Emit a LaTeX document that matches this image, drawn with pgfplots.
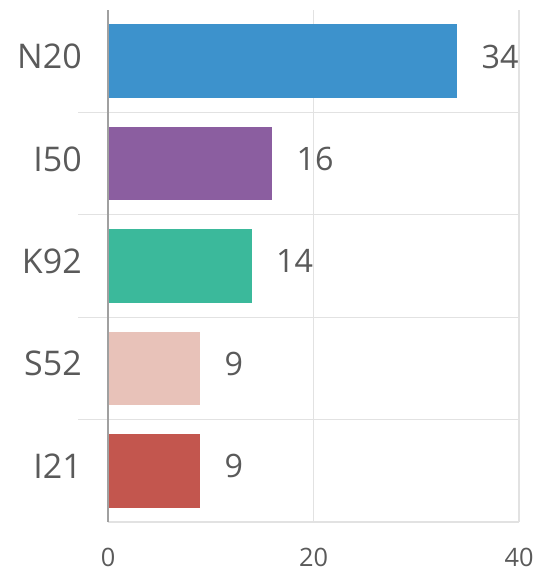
\documentclass[border=0pt]{standalone}
\usepackage{pgfplots}
\pgfplotsset{compat=1.18}
\usepackage{fontspec}
\setmainfont{Open Sans}
\definecolor{cN}{HTML}{3D92CC}
\definecolor{cI}{HTML}{8B5EA0}
\definecolor{cK}{HTML}{3BB99B}
\definecolor{cS}{HTML}{E8C2B9}
\definecolor{cR}{HTML}{C3564E}
\definecolor{txt}{HTML}{5A5A5A}
\definecolor{gridgray}{HTML}{E2E2E2}
\definecolor{axgray}{HTML}{A0A0A0}
\begin{document}
\begin{tikzpicture}
\begin{axis}[
  scale only axis, width=308.25pt, height=384pt,
  xmin=0, xmax=40, ymin=-0.5, ymax=4.5,
  axis line style={draw=none},
  major tick length=0pt,
  tick pos=left,
  xtick={0,20,40},
  ytick={0,1,2,3,4},
  yticklabels={I21,S52,K92,I50,N20},
  /pgf/number format/assume math mode=true,
  xticklabel style={font=\fontsize{19}{19}\selectfont, text=txt, anchor=north, inner sep=0pt, yshift=-19.5pt},
  yticklabel style={font=\fontsize{25.5}{25.5}\selectfont, text=txt, anchor=east, inner sep=0pt, xshift=-19.5pt, yshift=3.5pt},
  xmajorgrids, grid style={draw=gridgray, line width=0.9pt},
  xbar, bar width=0.72, bar shift=0pt,
  nodes near coords,
  every node near coord/.append style={font=\fontsize{24.2}{24.2}\selectfont, text=txt, anchor=west, inner sep=0pt, xshift=18pt, yshift=3.5pt},
  clip=false,
]
\draw[gridgray, line width=0.9pt] ([xshift=-22.5pt]axis cs:0,0.5) -- (axis cs:40,0.5);
\draw[gridgray, line width=0.9pt] ([xshift=-22.5pt]axis cs:0,1.5) -- (axis cs:40,1.5);
\draw[gridgray, line width=0.9pt] ([xshift=-22.5pt]axis cs:0,2.5) -- (axis cs:40,2.5);
\draw[gridgray, line width=0.9pt] ([xshift=-22.5pt]axis cs:0,3.5) -- (axis cs:40,3.5);
\draw[gridgray, line width=0.9pt] (axis cs:0,-0.5) -- (axis cs:40,-0.5);
\addplot[fill=cN, draw=none] coordinates {(34,4)};
\addplot[fill=cI, draw=none] coordinates {(16,3)};
\addplot[fill=cK, draw=none] coordinates {(14,2)};
\addplot[fill=cS, draw=none] coordinates {(9,1)};
\addplot[fill=cR, draw=none] coordinates {(9,0)};
\draw[axgray, line width=0.9pt] (axis cs:0,-0.5) -- (axis cs:0,4.5);
\end{axis}
\pgfresetboundingbox
\path[use as bounding box] (-81pt,-37.5pt) rectangle (327pt,391.5pt);
\end{tikzpicture}
\end{document}
